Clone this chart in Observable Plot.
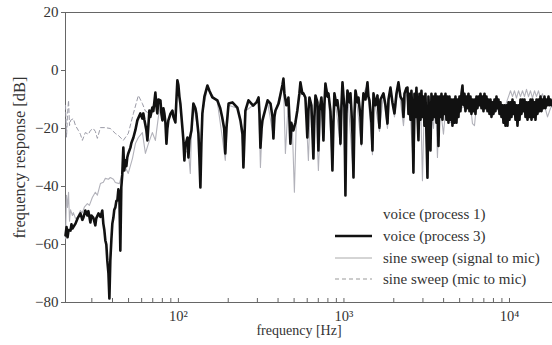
<!DOCTYPE html>
<html><head><meta charset="utf-8">
<script src="https://cdn.jsdelivr.net/npm/d3@7"></script>
<script src="https://cdn.jsdelivr.net/npm/@observablehq/plot@0.6"></script>
<style>
body{margin:0;background:#fff;}
#wrap{position:relative;width:552px;height:345px;font-family:"Liberation Serif",serif;color:#333;}
.row{position:absolute;left:0;height:20px;display:flex;align-items:center;font-size:15px;white-space:nowrap;}
.row svg{margin-right:11px;}
</style></head><body><div id="wrap"></div>
<script>
// voice (process 3): [frequency Hz, response dB]
const voice3 = [[20.8,-56.9],[21.1,-54],[21.4,-57.5],[21.7,-55],[22.3,-55.2],[22.6,-53],[22.9,-54.5],[23.9,-52.8],[24.6,-51],[25.6,-49.3],[26.3,-51.5],[26.7,-50.7],[27.4,-48.3],[28.2,-50],[28.6,-48.5],[29.4,-52.4],[29.8,-50],[30.6,-50.7],[31.5,-53.4],[31.9,-51],[32.9,-49.3],[33.8,-50.5],[34.7,-48.3],[35.2,-52.8],[35.7,-55],[36.2,-58.6],[36.7,-60],[37.2,-65.5],[37.8,-70],[38.3,-78.6],[38.8,-65.5],[39.4,-58],[39.9,-52.8],[40.5,-50.7],[41.0,-48],[41.6,-47.2],[42.2,-45],[42.8,-44.8],[43.4,-41],[44.0,-42.4],[44.6,-62.1],[45.2,-40.3],[45.8,-36],[46.5,-26.6],[47.1,-34.5],[47.8,-31],[48.5,-33],[49.1,-30],[49.8,-28.6],[51.3,-26.6],[52.0,-25],[53.5,-23.1],[55.0,-20.5],[56.5,-17.2],[58.9,-14.8],[60.6,-16.6],[61.4,-14.8],[62.3,-17],[64.1,-20.7],[65.0,-24.1],[66.8,-13.8],[67.7,-16],[69.6,-12.8],[70.6,-14],[72.6,-7.6],[73.6,-12],[74.6,-14.8],[75.7,-10],[77.9,-10.3],[79.0,-15],[80.1,-17.2],[81.2,-13],[82.3,-14.8],[83.5,-18],[84.7,-25.2],[85.8,-20],[87.0,-17.2],[89.5,-15],[92.0,-13.8],[93.3,-16],[95.9,-17.9],[97.3,-10],[98.6,-3.4],[100,-5],[101.4,-9],[102.8,-11.4],[105.7,-19.7],[107.2,-24],[108.7,-31],[110,-26],[113.4,-23.1],[115,-30],[116.6,-24],[119.9,-20.7],[123.2,-11.4],[126.7,-13],[128.4,-14.8],[132.1,-21.7],[133.9,-30],[135.8,-40.3],[137.7,-25],[139.6,-14.8],[143.6,-9],[149.7,-5.2],[153.9,-7],[160.5,-9.3],[172,-10.3],[179,-13],[184,-16.2],[189,-20],[192,-28.6],[195,-20],[201,-11.4],[212,-11],[227,-12.8],[237,-17.2],[244,-22],[247,-33.4],[251,-22],[254,-13.8],[265,-10.3],[283,-12.1],[296,-11],[305,-9.3],[309,-15],[313,-26.6],[318,-20],[322,-17.2],[346,-10.3],[360,-11.4],[370,-16],[375,-23.4],[380,-16],[386,-13.8],[403,-11.4],[425,-5],[431,-2.8],[437,-7.9],[449,-12],[462,-9.3],[468,-16],[475,-25.2],[481,-18],[488,-19.7],[495,-20.7],[509,-18],[523,-13.8],[538,-8],[546,-4.1],[561,-8],[569,-7.9],[585,-9.3],[593,-16],[601,-23.1],[610,-14],[619,-9.3],[636,-12],[654,-30.3],[663,-16],[673,-8.6],[692,-11],[701,-27.6],[711,-14],[731,-9.3],[741,-14],[752,-24.1],[762,-12],[773,-4.5],[795,-9],[806,-7.9],[829,-14],[840,-22],[852,-34.5],[864,-18],[876,-7.9],[901,-12],[913,-10.3],[939,-16],[953,-25.2],[966,-12],[980,-4.1],[994,-9],[1007,-12.8],[1021,-43.1],[1035,-15],[1050,-6.9],[1080,-11],[1095,-7.9],[1110,-14],[1126,-22],[1142,-36.9],[1158,-15],[1174,-6.9],[1207,-11],[1224,-9.3],[1258,-16],[1276,-25.2],[1294,-13],[1312,-7.9],[1349,-10],[1387,-4.1],[1406,-9],[1426,-10.3],[1466,-18],[1487,-27.6],[1508,-7.9],[1550,-12],[1594,-8.6],[1616,-14],[1639,-19.7],[1662,-10],[1733,-7.9],[1782,-12],[1832,-18.3],[1858,-10],[1910,-5.9],[1963,-11],[2019,-14.8],[2076,-8],[2134,-4.1],[2195,-9],[2257,-10.3],[2289,-16],[2321,-8],[2386,-6],[2420,-5.9],[2454,-15],[2488,-8],[2522,-17],[2557,-7],[2593,-16],[2629,-35.2],[2666,-8],[2704,-16],[2741,-6],[2780,-15],[2819,-24],[2858,-8],[2899,-17],[2939,-7],[2980,-16],[3022,-9],[3064,-19],[3108,-8],[3151,-22],[3195,-37],[3240,-9],[3286,-18],[3332,-27.6],[3378,-8],[3426,-17],[3474,-9],[3522,-16],[3572,-8],[3622,-18],[3672,-9],[3724,-26],[3776,-9],[3829,-16],[3883,-8],[3937,-17],[3992,-9],[4048,-15],[4105,-8],[4162,-17],[4221,-9],[4280,-18],[4340,-9],[4400,-17],[4462,-10],[4524,-19],[4588,-10],[4652,-18],[4717,-9],[4783,-18],[4850,-10],[4918,-16],[4987,-9],[5057,-14],[5128,-8],[5200,-5.2],[5273,-12],[5347,-8],[5421,-14],[5497,-9],[5574,-13],[5652,-8],[5732,-14],[5812,-9],[5893,-15],[5976,-10],[6060,-14],[6145,-10],[6230,-15],[6318,-9],[6406,-13],[6496,-9],[6587,-12],[6679,-8],[6773,-13],[6868,-9],[6964,-14],[7062,-8],[7161,-13],[7261,-9],[7363,-14],[7466,-10],[7571,-15],[7677,-10],[7785,-16],[7894,-11],[8004,-15],[8116,-10],[8230,-14],[8345,-9],[8462,-13],[8581,-10],[8701,-15],[8823,-11],[8947,-16],[9072,-12],[9199,-18],[9328,-12],[9459,-19],[9591,-12],[9725,-19],[9862,-11],[10000,-17],[10140,-11],[10282,-16],[10426,-10],[10572,-15],[10720,-11],[10870,-17],[11022,-12],[11177,-19],[11334,-12],[11493,-17],[11654,-10],[11817,-15],[11983,-10],[12151,-14],[12321,-10],[12494,-16],[12669,-11],[12846,-17],[13026,-11],[13208,-16],[13394,-10],[13581,-17],[13771,-10],[13964,-16],[14160,-11],[14360,-17],[14560,-10],[14760,-15],[14970,-10],[15180,-14],[15394,-9],[15610,-14],[15830,-10],[16050,-13],[16270,-9],[16500,-13],[16730,-10],[16970,-12],[17200,-9],[17440,-12],[17690,-10],[17940,-12],[18190,-10.5]];

// sine sweep (signal to mic)
const sweepSignal = [[20.8,-58],[21.1,-43],[21.4,-47.2],[21.7,-42],[22.0,-52],[22.3,-48],[22.9,-50],[23.2,-49],[23.9,-51],[24.6,-50.7],[25.6,-48.3],[26.3,-49],[27.1,-47],[28.2,-45.9],[29.0,-46.5],[30.2,-43.8],[31.5,-42],[32.4,-43],[33.8,-39],[35.2,-38.5],[36.2,-37.2],[37.8,-37.5],[38.8,-36.9],[40.5,-37.5],[41.6,-38.6],[44.0,-39],[45.8,-35.5],[47.8,-33.4],[49.8,-35.5],[52.8,-30.3],[55.0,-25.2],[57.3,-23.1],[60.6,-21.4],[63.2,-28.6],[65.9,-25.2],[69.6,-21.4],[72.6,-24.1],[75.7,-16],[77.9,-12],[82.3,-15],[84.7,-22],[87.0,-17],[92.0,-14],[95.9,-17],[98.6,-5],[102.8,-11],[108.7,-28],[115,-28],[118,-35.5],[119.9,-22],[123.2,-12],[132.1,-21],[135.8,-38],[139.6,-15],[149.7,-6],[172,-11],[184,-23],[192,-31],[201,-12],[227,-13],[237,-17],[247,-30],[254,-14],[283,-12],[305,-10],[313,-33.4],[322,-17],[346,-11],[375,-23],[386,-14],[431,-4],[443,-28.6],[462,-10],[475,-25],[488,-20],[502,-42],[516,-17],[546,-5],[585,-10],[610,-31],[628,-10],[654,-30],[673,-9],[701,-34.5],[731,-10],[752,-24],[773,-5],[806,-8],[852,-34],[876,-8],[953,-26],[980,-5],[1021,-40],[1050,-7],[1142,-37],[1174,-7],[1276,-26],[1312,-8],[1387,-5],[1487,-29],[1508,-8],[1639,-21],[1733,-8],[1832,-20],[1910,-6],[2019,-16],[2134,-5],[2289,-19],[2386,-7],[2522,-16],[2629,-34],[2741,-7],[2819,-22],[2899,-8],[2980,-38],[3064,-9],[3195,-35],[3286,-10],[3474,-20],[3572,-9],[3672,-30],[3776,-10],[3992,-22],[4162,-10],[4400,-18],[5057,-13],[5812,-12],[5976,-18.3],[6145,-19],[6318,-12],[7161,-12],[8230,-13],[9199,-15],[9591,-11],[9862,-9],[10140,-7],[10426,-9],[10720,-7],[11022,-9.5],[11334,-7],[11654,-9],[11983,-7],[12321,-9],[12669,-6.5],[13026,-9],[13394,-7],[13771,-9.5],[14160,-7],[14560,-9],[14970,-7],[15394,-9.5],[15830,-8],[16270,-12],[16970,-16],[17690,-13],[18190,-12]];

// sine sweep (mic to mic)
const sweepMic = [[20.8,-12],[21.1,-23],[21.4,-15],[21.7,-10.3],[22.0,-19],[22.3,-17.2],[23.2,-16.6],[23.9,-19],[24.9,-20.7],[25.6,-22],[26.3,-24.1],[27.4,-21.4],[28.6,-22],[29.4,-20.7],[30.6,-20],[31.5,-21],[32.4,-23.4],[33.8,-19.7],[36.2,-19.7],[38.8,-20],[41.6,-21.7],[43.4,-22.4],[46.5,-24.1],[49.8,-21.7],[53.5,-14.8],[57.3,-8.6],[60.6,-11.4],[63.2,-14],[67.7,-15],[72.6,-10],[77.9,-11]];

const yTicks = [-80, -60, -40, -20, 0, 20];
const xTicks = [100, 1000, 10000];
const xTickLabels = {100: "10²", 1000: "10³", 10000: "10⁴"};
const minorTicks = [30,40,50,60,70,80,90,100,200,300,400,500,600,700,800,900,1000,2000,3000,4000,5000,6000,7000,8000,9000,10000];
const xDomain = [20.8, 18190];
const yDomain = [-80, 20];
const legendLabels = ["voice (process 1)", "voice (process 3)", "sine sweep (signal to mic)", "sine sweep (mic to mic)"];

const fmtY = d => d < 0 ? "\u2212" + Math.abs(d) : String(d);

const chart = Plot.plot({
  width: 552, height: 345,
  marginLeft: 65, marginRight: 0, marginTop: 12, marginBottom: 43,
  style: {fontFamily: "'Liberation Serif', serif", fontSize: "15px", color: "#333", background: "transparent", overflow: "visible"},
  x: {type: "log", domain: xDomain},
  y: {domain: yDomain},
  marks: [
    Plot.ruleY([yDomain[1], yDomain[0]], {stroke: "#666", strokeWidth: 1}),
    Plot.ruleX([xDomain[0]], {stroke: "#666", strokeWidth: 1}),
    Plot.tickX(minorTicks, {x: d => d, insetTop: 286, stroke: "#666"}),
    Plot.axisY({ticks: yTicks, tickSize: 4, tickPadding: 3, tickFormat: fmtY, label: null, stroke: "#666", fontSize: 15}),
    Plot.axisX({ticks: xTicks, tickSize: 0, tickPadding: 8, tickFormat: d => xTickLabels[d], label: null, fontSize: 14.5}),
    Plot.text(["frequency [Hz]"], {frameAnchor: "bottom", dx: -10, dy: 32, fontSize: 14, fill: "#333"}),
    Plot.text(["frequency response [dB]"], {frameAnchor: "left", textAnchor: "middle", rotate: -90, dx: -46, dy: 0, fontSize: 16.5, fill: "#333"}),
    Plot.line(sweepMic, {x: d => d[0], y: d => d[1], stroke: "#9a9aa6", strokeWidth: 1, strokeDasharray: "4,3"}),
    Plot.line(sweepSignal, {x: d => d[0], y: d => d[1], stroke: "#b2b2ba", strokeWidth: 1.1}),
    Plot.line(voice3, {x: d => d[0], y: d => d[1], stroke: "#111", strokeWidth: 2.6, strokeLinejoin: "round"})
  ]
});

const wrap = document.getElementById("wrap");
wrap.appendChild(chart);

const legendStyles = [null, {w: 2.6, c: "#111", dash: null}, {w: 1, c: "#aaa", dash: null}, {w: 1, c: "#999", dash: "4,3"}];
const rowY = [204, 226, 248, 269];
legendLabels.forEach((lab, i) => {
  const row = document.createElement("div");
  row.className = "row";
  row.style.top = rowY[i] + "px";
  row.style.left = "335px";
  const s = legendStyles[i];
  let sw = '<svg width="37" height="10">';
  if (s) sw += `<line x1="0" x2="37" y1="5" y2="5" stroke="${s.c}" stroke-width="${s.w}" ${s.dash ? `stroke-dasharray="${s.dash}"` : ""}/>`;
  sw += '</svg>';
  row.innerHTML = sw + `<span>${lab}</span>`;
  wrap.appendChild(row);
});
</script>
</body></html>
